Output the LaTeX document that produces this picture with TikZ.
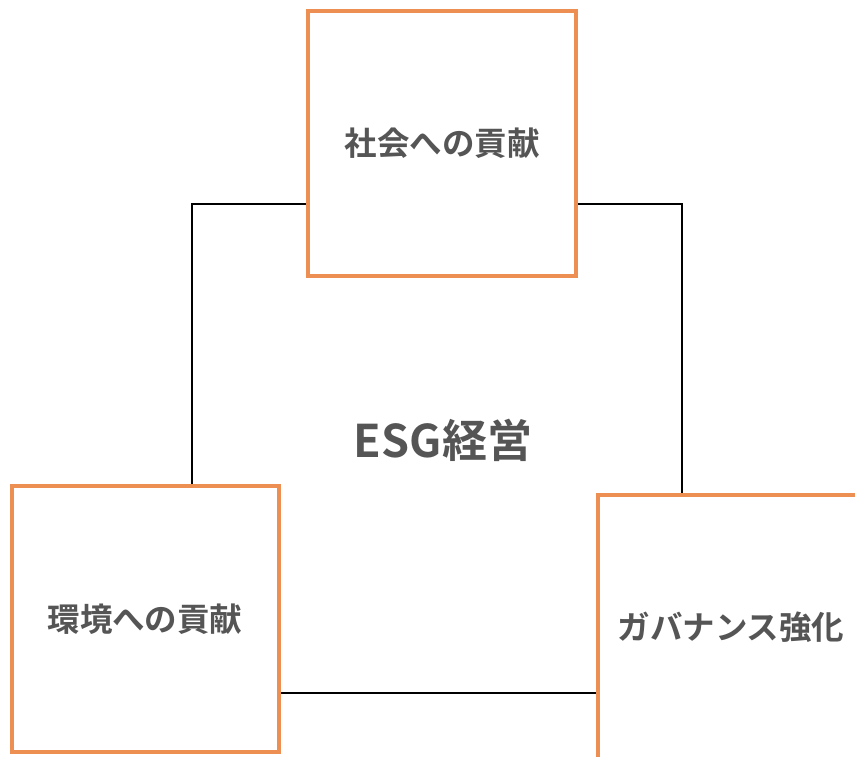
\documentclass[tikz,border=0pt]{standalone}
\usepackage{fontspec}
\setmainfont{Noto Sans CJK JP}[BoldFont={* Bold}]
\newfontfamily\jpbold{Noto Sans CJK JP Bold}
\definecolor{boxorange}{RGB}{237,142,83}
\definecolor{txtgray}{RGB}{85,85,85}
\begin{document}
\begin{tikzpicture}[x=1pt,y=-1pt,
  pillar/.style={draw=boxorange, line width=4pt, fill=white, minimum width=267pt, minimum height=266pt, inner sep=0pt, text=txtgray, font=\jpbold\fontsize{32.5}{38}\selectfont},
  frameline/.style={draw=black, line width=1.8pt},
  title/.style={text=txtgray, font=\jpbold\fontsize{45}{52}\selectfont}]
\useasboundingbox (0,0) rectangle (855,757);
\clip (0,0) rectangle (855,757);
\fill[white] (0,0) rectangle (855,757);
\coordinate (tl) at (192,204);
\coordinate (br) at (682,693);
\draw[frameline] (tl) rectangle (br);
\node[title] (esg) at (443,440) {ESG経営};
\node[pillar, minimum height=265pt, minimum width=268pt] (social) at (442,143.5) {\raisebox{2pt}{社会への貢献}};
\node[pillar] (env) at (145,619) {\raisebox{2pt}{環境への貢献}};
\node[pillar] (gov) at (731,628) {\raisebox{5pt}{ガバナンス強化}};
\end{tikzpicture}
\end{document}
